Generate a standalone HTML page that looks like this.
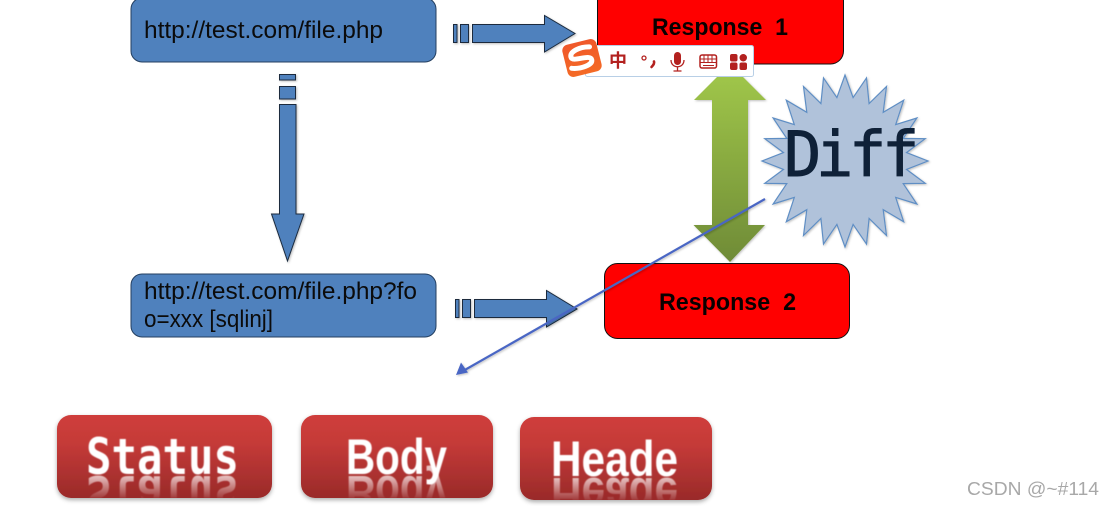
<!DOCTYPE html>
<html lang="en">
<head>
<meta charset="utf-8">
<title>Diff diagram</title>
<style>
html,body{margin:0;padding:0;background:#fff;width:1114px;height:506px;overflow:hidden}
svg{display:block}
text{font-family:"Liberation Sans","Noto Sans CJK SC",sans-serif}
</style>
</head>
<body>
<svg width="1114" height="506" viewBox="0 0 1114 506" xmlns="http://www.w3.org/2000/svg">
<defs>
<linearGradient id="g" x1="0" y1="0" x2="0" y2="1"><stop offset="0" stop-color="#a2c94a"/><stop offset="1" stop-color="#6f8b37"/></linearGradient>
<linearGradient id="r" x1="0" y1="0" x2="0" y2="1"><stop offset="0" stop-color="#cf3e3b"/><stop offset=".35" stop-color="#c43a38"/><stop offset="1" stop-color="#992a29"/></linearGradient>
<linearGradient id="ref1" gradientUnits="userSpaceOnUse" x1="0" y1="476" x2="0" y2="454"><stop offset="0" stop-color="#fff" stop-opacity=".7"/><stop offset="1" stop-color="#fff" stop-opacity=".08"/></linearGradient>
<linearGradient id="ref2" gradientUnits="userSpaceOnUse" x1="0" y1="478" x2="0" y2="456"><stop offset="0" stop-color="#fff" stop-opacity=".7"/><stop offset="1" stop-color="#fff" stop-opacity=".08"/></linearGradient>
<linearGradient id="logo" x1="0" y1="0" x2="0" y2="1"><stop offset="0" stop-color="#f0582a"/><stop offset="1" stop-color="#f46a26"/></linearGradient>
<filter id="s" x="-15%" y="-15%" width="130%" height="130%"><feDropShadow dx="0" dy="2" stdDeviation="2" flood-color="#000" flood-opacity=".33"/></filter>
<filter id="s2" x="-15%" y="-15%" width="130%" height="130%"><feDropShadow dx="1" dy="1" stdDeviation="1" flood-color="#000" flood-opacity=".25"/></filter>
<filter id="soft" x="-5%" y="-5%" width="110%" height="110%"><feGaussianBlur stdDeviation=".5"/></filter>
<clipPath id="c1"><rect x="57" y="415" width="215" height="83" rx="14"/></clipPath>
<clipPath id="c2"><rect x="301" y="415" width="192" height="83" rx="14"/></clipPath>
<clipPath id="c3"><rect x="520" y="417" width="192" height="83" rx="14"/></clipPath>
</defs>

<!-- URL boxes -->
<rect x="131" y="-2" width="305" height="64" rx="11" fill="#4f81bd" stroke="#243f60" stroke-width="1"/>
<text x="144" y="38" font-size="24" fill="#0b0b0b" textLength="239" lengthAdjust="spacingAndGlyphs">http://test.com/file.php</text>
<rect x="131" y="274" width="305" height="63" rx="11" fill="#4f81bd" stroke="#243f60" stroke-width="1"/>
<text x="144" y="299" font-size="24" fill="#0b0b0b" textLength="273" lengthAdjust="spacingAndGlyphs">http://test.com/file.php?fo</text>
<text x="144" y="327" font-size="24" fill="#0b0b0b" textLength="129" lengthAdjust="spacingAndGlyphs">o=xxx [sqlinj]</text>

<!-- striped arrow 1 -->
<g fill="#4f81bd" stroke="#1a2a3d" stroke-width="1" filter="url(#s2)">
<rect x="453.5" y="24.5" width="3.5" height="18"/>
<rect x="460.5" y="24.5" width="8" height="18"/>
<path d="M472.5 24.5H544.5V15.5L575 33.5L544.5 52V42.5H472.5Z"/>
</g>
<!-- striped arrow vertical -->
<g fill="#4f81bd" stroke="#1a2a3d" stroke-width="1" filter="url(#s2)">
<rect x="279.5" y="74.5" width="16" height="5.5"/>
<rect x="279.5" y="86.5" width="16" height="12.5"/>
<path d="M279.5 104.5H296V214H304L287.5 261L271.5 214H279.5Z"/>
</g>
<!-- striped arrow 2 -->
<g fill="#4f81bd" stroke="#1a2a3d" stroke-width="1" filter="url(#s2)">
<rect x="455.5" y="299.5" width="3.5" height="18"/>
<rect x="462.5" y="299.5" width="8" height="18"/>
<path d="M474.5 299.5H546.5V290.5L577 309L546.5 327V317.5H474.5Z"/>
</g>

<!-- Responses -->
<rect x="597.5" y="-12" width="246" height="76" rx="13" fill="#ff0000" stroke="#111" stroke-width="1"/>
<text x="652" y="35" font-size="24" font-weight="700" fill="#0a0000" textLength="136" lengthAdjust="spacingAndGlyphs" xml:space="preserve">Response  1</text>
<rect x="604.5" y="263.5" width="245" height="75" rx="13" fill="#ff0000" stroke="#111" stroke-width="1"/>
<text x="659" y="310" font-size="24" font-weight="700" fill="#0a0000" textLength="137" lengthAdjust="spacingAndGlyphs" xml:space="preserve">Response  2</text>

<!-- Green double arrow -->
<path d="M730 64L766 100H748V225H765L730 262L693.500 225H712V100H694Z" fill="url(#g)" filter="url(#s2)"/>

<!-- Star -->
<polygon filter="url(#s2)" fill="#b0c2da" stroke="#5f8ec4" stroke-width="1.2" points="845,75 853.1,97.600 866.5,77.900 869.100,103.600 886.500,86.500 883.200,112.300 903.700,100.200 895.700,124.600 916.900,118 903.200,138.400 925.200,138.700 906.500,152.600 928,161 906.500,169.400 925.200,183.300 903.200,183.600 916.900,204 895.700,197.400 903.700,221.800 883.200,209.700 886.500,235.500 869.100,218.400 866.500,244.100 853.100,224.400 845,247 836.900,224.400 823.500,244.100 820.900,218.400 803.500,235.500 806.800,209.700 786.300,221.800 794.300,197.400 773.100,204 786.800,183.600 764.800,183.300 783.500,169.400 762,161 783.500,152.600 764.800,138.700 786.800,138.400 773.100,118 794.300,124.600 786.300,100.200 806.800,112.300 803.500,86.500 820.900,103.600 823.500,77.900 836.900,97.600"/>
<text x="784 816 849 882" y="176" font-size="62" fill="#0f2138" stroke="#0f2138" stroke-width=".9" style="font-family:'DejaVu Sans Mono',monospace">Diff</text>

<!-- Blue line -->
<g filter="url(#s2)">
<line x1="765" y1="199" x2="463" y2="371" stroke="#4a66c4" stroke-width="2.200"/>
<path d="M456 375L461 362.500L468 372.500Z" fill="#4a66c4"/>
</g>

<!-- Buttons -->
<g filter="url(#s)">
<rect x="57" y="415" width="215" height="83" rx="14" fill="url(#r)"/>
<rect x="301" y="415" width="192" height="83" rx="14" fill="url(#r)"/>
<rect x="520" y="417" width="192" height="83" rx="14" fill="url(#r)"/>
</g>
<g filter="url(#soft)" font-weight="700" fill="#fff">
<text x="86" y="474" font-size="50" textLength="153" lengthAdjust="spacingAndGlyphs" style="font-family:'DejaVu Sans Mono',monospace">Status</text>
<text x="346" y="474" font-size="50" textLength="101" lengthAdjust="spacingAndGlyphs">Body</text>
<text x="551" y="476" font-size="50" textLength="127" lengthAdjust="spacingAndGlyphs">Heade</text>
</g>
<g filter="url(#soft)" font-weight="700">
<g clip-path="url(#c1)"><g transform="translate(0,952) scale(1,-1)"><text x="86" y="476" font-size="50" fill="url(#ref1)" textLength="153" lengthAdjust="spacingAndGlyphs" style="font-family:'DejaVu Sans Mono',monospace">Status</text></g></g>
<g clip-path="url(#c2)"><g transform="translate(0,952) scale(1,-1)"><text x="346" y="476" font-size="50" fill="url(#ref1)" textLength="101" lengthAdjust="spacingAndGlyphs">Body</text></g></g>
<g clip-path="url(#c3)"><g transform="translate(0,956) scale(1,-1)"><text x="551" y="478" font-size="50" fill="url(#ref2)" textLength="127" lengthAdjust="spacingAndGlyphs">Heade</text></g></g>
</g>

<!-- IME toolbar -->
<rect x="585.500" y="45.500" width="168" height="31" rx="2" fill="#fff" stroke="#b8cfe6" stroke-width="1"/>
<g transform="rotate(-14 582 58)">
<rect x="564.500" y="41.500" width="35" height="33" rx="6" fill="url(#logo)"/>
<path d="M592 49C583 46.500 571.500 48.500 571.500 54.500C571.500 60.500 591 55.500 591 62C591 67.500 578 68.500 569.500 65.500" fill="none" stroke="#fff" stroke-width="5" stroke-linecap="round"/>
</g>
<text x="609" y="67" font-size="18" font-weight="700" fill="#b3211f" style="font-family:'Noto Sans CJK SC',sans-serif">中</text>
<circle cx="644" cy="58" r="2" fill="none" stroke="#b3211f" stroke-width="1.300"/>
<path d="M654 61.500C654.500 63 653.500 65 651.500 67" stroke="#b3211f" stroke-width="2.600" fill="none" stroke-linecap="round"/>
<rect x="674" y="52" width="7" height="13" rx="3.500" fill="#b3211f"/>
<path d="M671 60C671 69 684 69 684 60M677.500 67V71M673.500 71H681.500" stroke="#b3211f" stroke-width="1.300" fill="none"/>
<rect x="700" y="55" width="16.500" height="13" rx="2" fill="none" stroke="#b3211f" stroke-width="1.500"/>
<path d="M700 59H716.500M700 62.500H716.500M704 55V62.500M708 55V62.500M712 55V62.500M703 65.500H714" stroke="#b3211f" stroke-width="1" fill="none"/>
<g fill="#b3211f">
<rect x="730" y="54" width="7.500" height="7.500" rx="2"/>
<rect x="739.500" y="54" width="7.500" height="7.500" rx="3.700"/>
<rect x="730" y="62.500" width="7.500" height="7.500" rx="2"/>
<rect x="739.500" y="62.500" width="7.500" height="7.500" rx="2"/>
</g>

<!-- Watermark -->
<text x="967" y="495" font-size="18" fill="#a8a8a8" textLength="132" lengthAdjust="spacingAndGlyphs">CSDN @~#114</text>
</svg>
</body>
</html>
